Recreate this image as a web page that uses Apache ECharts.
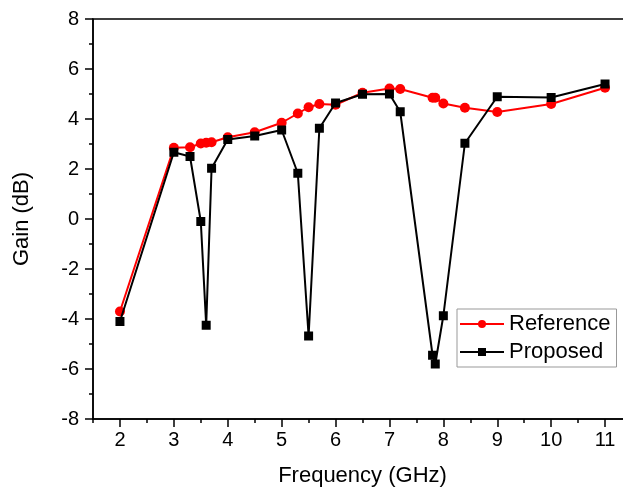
<!DOCTYPE html>
<html>
<head>
<meta charset="utf-8">
<script src="https://cdn.jsdelivr.net/npm/echarts@6/dist/echarts.min.js"></script>
<style>
html,body{margin:0;padding:0;background:#fff;}
#chart{width:623px;height:496px;}
</style>
</head>
<body>
<div id="chart"></div>
<script>
var freq = [2, 3, 3.3, 3.5, 3.6, 3.7, 4, 4.5, 5, 5.3, 5.5, 5.7, 6, 6.5, 7, 7.2, 7.8, 7.85, 8, 8.4, 9, 10, 11];
var reference = [-3.7, 2.85, 2.87, 3.02, 3.05, 3.07, 3.27, 3.47, 3.85, 4.22, 4.47, 4.6, 4.57, 5.05, 5.22, 5.2, 4.85, 4.85, 4.62, 4.45, 4.28, 4.6, 5.25];
var proposed = [-4.1, 2.67, 2.5, -0.1, -4.25, 2.03, 3.18, 3.32, 3.56, 1.83, -4.68, 3.63, 4.64, 4.99, 5.0, 4.29, -5.45, -5.8, -3.87, 3.03, 4.89, 4.86, 5.4];
var xTicks = [2, 3, 4, 5, 6, 7, 8, 9, 10, 11];
var xMinorTicks = [1.5, 2.5, 3.5, 4.5, 5.5, 6.5, 7.5, 8.5, 9.5, 10.5, 11.5];
var seriesNames = ['Reference', 'Proposed'];

function pairs(xs, ys) { return xs.map(function (x, i) { return [x, ys[i]]; }); }

var FONT = '"Liberation Sans", Arial, sans-serif';
var chart = echarts.init(document.getElementById('chart'), null, {renderer: 'canvas'});
chart.setOption({
  animation: false,
  backgroundColor: '#fff',
  grid: {left: 93, top: 19, width: 539, height: 400, outerBoundsMode: 'none', containLabel: false,
         show: true, borderColor: '#000', borderWidth: 1.5, backgroundColor: 'transparent'},
  legend: {
    data: seriesNames,
    orient: 'vertical',
    left: 457, top: 309,
    itemWidth: 44, itemHeight: 10, itemGap: 2,
    padding: [2, 6, 2, 2],
    borderColor: '#999', borderWidth: 1,
    backgroundColor: '#fff',
    textStyle: {fontFamily: FONT, fontSize: 22, color: '#000', lineHeight: 26}
  },
  xAxis: [{
    type: 'value', min: 1.5, max: 11.5,
    name: 'Frequency (GHz)', nameLocation: 'middle', nameGap: 46,
    nameTextStyle: {fontFamily: FONT, fontSize: 22, color: '#000'},
    axisLine: {show: true, onZero: false, lineStyle: {color: '#000', width: 1.5}},
    axisTick: {show: true, inside: false, length: 8, lineStyle: {color: '#000', width: 1.5}, customValues: xTicks},
    axisLabel: {fontFamily: FONT, fontSize: 20, color: '#000', margin: 11, customValues: xTicks},
    splitLine: {show: false}
  }, {
    type: 'value', min: 1.5, max: 11.5, position: 'bottom',
    axisLine: {show: false, onZero: false},
    axisTick: {show: true, inside: false, length: 4, lineStyle: {color: '#000', width: 1.5}, customValues: xMinorTicks},
    axisLabel: {show: false},
    splitLine: {show: false}
  }],
  yAxis: {
    type: 'value', min: -8, max: 8, interval: 2,
    name: 'Gain (dB)', nameLocation: 'middle', nameGap: 60, nameRotate: 90,
    nameTextStyle: {fontFamily: FONT, fontSize: 22, color: '#000'},
    axisLine: {show: true, onZero: false, lineStyle: {color: '#000', width: 1.5}},
    axisTick: {show: true, inside: false, length: 8, lineStyle: {color: '#000', width: 1.5}},
    minorTick: {show: true, splitNumber: 2, length: 4, lineStyle: {color: '#000', width: 1.5}},
    axisLabel: {fontFamily: FONT, fontSize: 20, color: '#000', margin: 14},
    splitLine: {show: false}
  },
  series: [{
    name: seriesNames[0], type: 'line', data: pairs(freq, reference),
    symbol: 'circle', symbolSize: 10,
    lineStyle: {color: '#ff0000', width: 2},
    itemStyle: {color: '#ff0000'},
    z: 2
  }, {
    name: seriesNames[1], type: 'line', data: pairs(freq, proposed),
    symbol: 'rect', symbolSize: 9,
    lineStyle: {color: '#000', width: 2},
    itemStyle: {color: '#000'},
    z: 3
  }]
});
</script>
</body>
</html>
